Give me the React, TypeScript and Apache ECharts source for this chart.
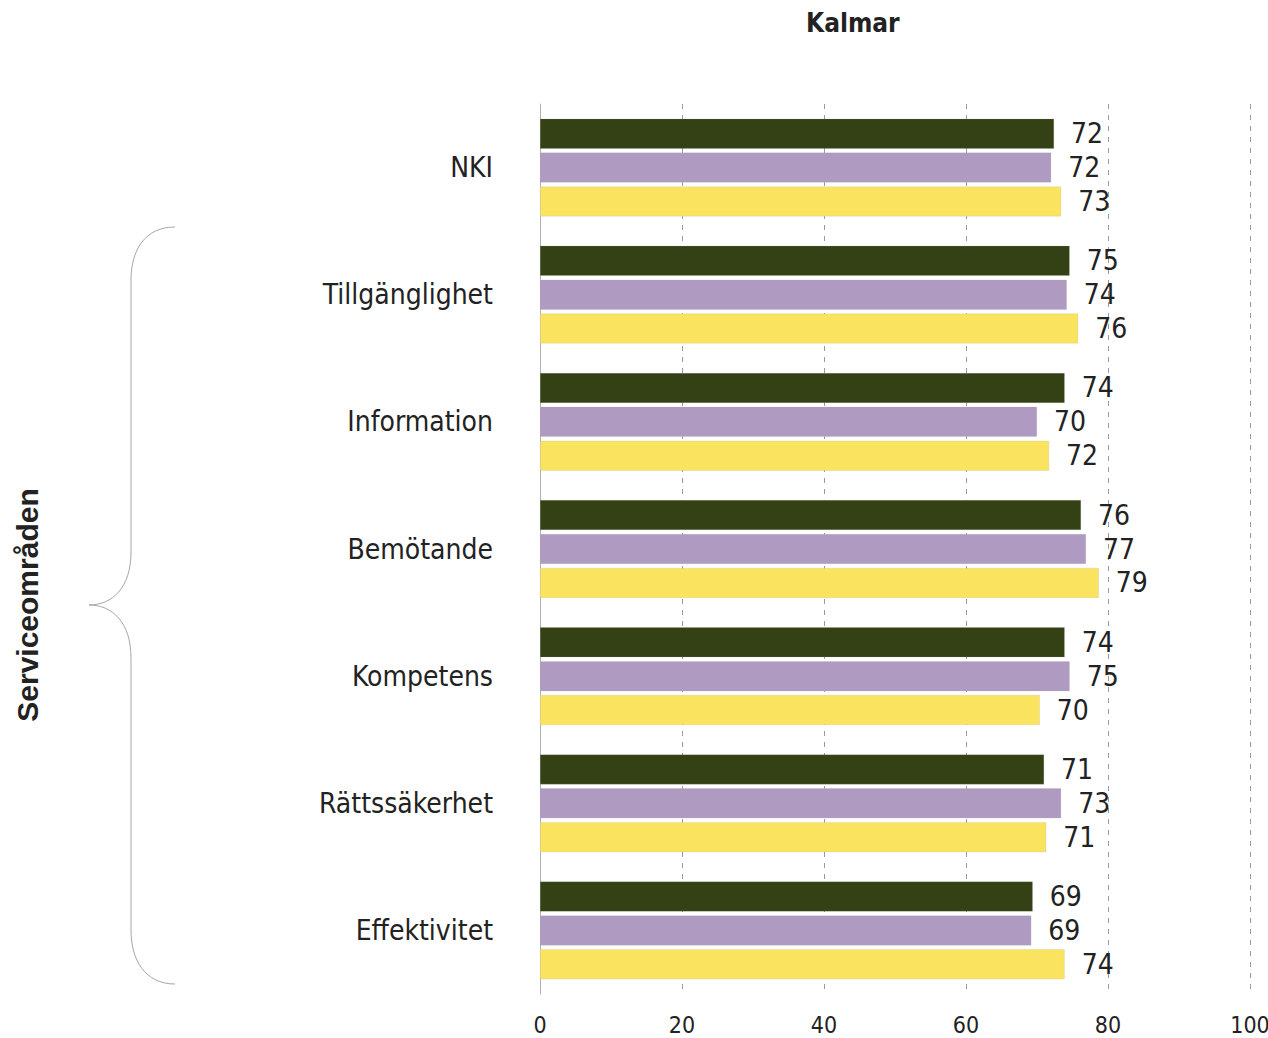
import React, { useEffect, useRef } from "react";
import * as echarts from "echarts";

const categories = ["NKI", "Tillgänglighet", "Information", "Bemötande", "Kompetens", "Rättssäkerhet", "Effektivitet"];
const seriesA = [72.4, 74.6, 73.9, 76.2, 73.9, 71.0, 69.4];
const seriesB = [72.0, 74.2, 70.0, 76.9, 74.6, 73.4, 69.2];
const seriesC = [73.4, 75.8, 71.7, 78.7, 70.4, 71.3, 73.9];
const xTicks = { min: 0, max: 100, interval: 20 };
const titleText = "Kalmar";
const axisTitle = "Serviceområden";

const colors = ["#334115", "#AF9BC2", "#FAE35E"];
const FONT = "'DejaVu Sans Condensed', 'DejaVu Sans', sans-serif";

export default function App() {
  const ref = useRef<HTMLDivElement>(null);
  useEffect(() => {
    if (!ref.current) return;
    const chart = echarts.init(ref.current, null, { renderer: "svg" });
    const mk = (data: number[], i: number) => ({
      type: "bar",
      data,
      barWidth: 30,
      barGap: "13%",
      itemStyle: { color: colors[i], borderColor: "rgba(160,160,160,0.35)", borderWidth: 0.5 },
      label: {
        show: true,
        position: "right",
        distance: 17,
        formatter: (p: any) => String(Math.round(p.value)),
        fontFamily: FONT,
        fontSize: 28,
        color: "#222",
      },
    });
    const brace = "#a6a6a6";
    chart.setOption({
      animation: false,
      title: {
        text: titleText,
        left: 801,
        top: 5,
        textStyle: { fontFamily: FONT, fontWeight: "bold", fontSize: 26, color: "#222" },
      },
      grid: { left: 540, right: 18, top: 104, bottom: 44, containLabel: false, outerBoundsMode: "none" },
      xAxis: {
        type: "value",
        min: xTicks.min,
        max: xTicks.max,
        interval: xTicks.interval,
        axisLine: { show: false },
        axisTick: { show: false },
        axisLabel: { fontFamily: FONT, fontSize: 23, color: "#222", margin: 19 },
        splitLine: { show: true, lineStyle: { color: "#9a9a9a", type: [5, 6], width: 1 } },
      },
      yAxis: {
        type: "category",
        data: categories,
        inverse: true,
        axisLine: { show: true, lineStyle: { color: "#b0b0b0", width: 1 } },
        axisTick: { show: false },
        axisLabel: { fontFamily: FONT, fontSize: 28, color: "#222", margin: 47, padding: [0, 0, 6, 0] },
      },
      series: [mk(seriesA, 0), mk(seriesB, 1), mk(seriesC, 2)],
      graphic: [
        {
          type: "text",
          x: 27,
          y: 605,
          rotation: Math.PI / 2,
          style: {
            text: axisTitle,
            fontFamily: "'Liberation Sans', Arial, sans-serif",
            fontWeight: "bold",
            fontSize: 30,
            fill: "#222",
            align: "center",
            verticalAlign: "middle",
          },
        },
        { type: "bezierCurve", shape: { x1: 175, y1: 227, cpx1: 145, cpy1: 227, cpx2: 131, cpy2: 250, x2: 131, y2: 280 }, style: { stroke: brace, fill: null, lineWidth: 1 } },
        { type: "line", shape: { x1: 131, y1: 280, x2: 131, y2: 552 }, style: { stroke: brace, lineWidth: 1 } },
        { type: "bezierCurve", shape: { x1: 131, y1: 552, cpx1: 131, cpy1: 588, cpx2: 112, cpy2: 605, x2: 89, y2: 605 }, style: { stroke: brace, fill: null, lineWidth: 1 } },
        { type: "bezierCurve", shape: { x1: 89, y1: 605, cpx1: 112, cpy1: 605, cpx2: 131, cpy2: 622, x2: 131, y2: 658 }, style: { stroke: brace, fill: null, lineWidth: 1 } },
        { type: "line", shape: { x1: 131, y1: 658, x2: 131, y2: 930 }, style: { stroke: brace, lineWidth: 1 } },
        { type: "bezierCurve", shape: { x1: 131, y1: 930, cpx1: 131, cpy1: 960, cpx2: 145, cpy2: 984, x2: 175, y2: 984 }, style: { stroke: brace, fill: null, lineWidth: 1 } },
      ],
    });
    return () => chart.dispose();
  }, []);
  return <div ref={ref} style={{ width: 1268, height: 1038, position: "absolute", left: 0, top: 0 }} />;
}
